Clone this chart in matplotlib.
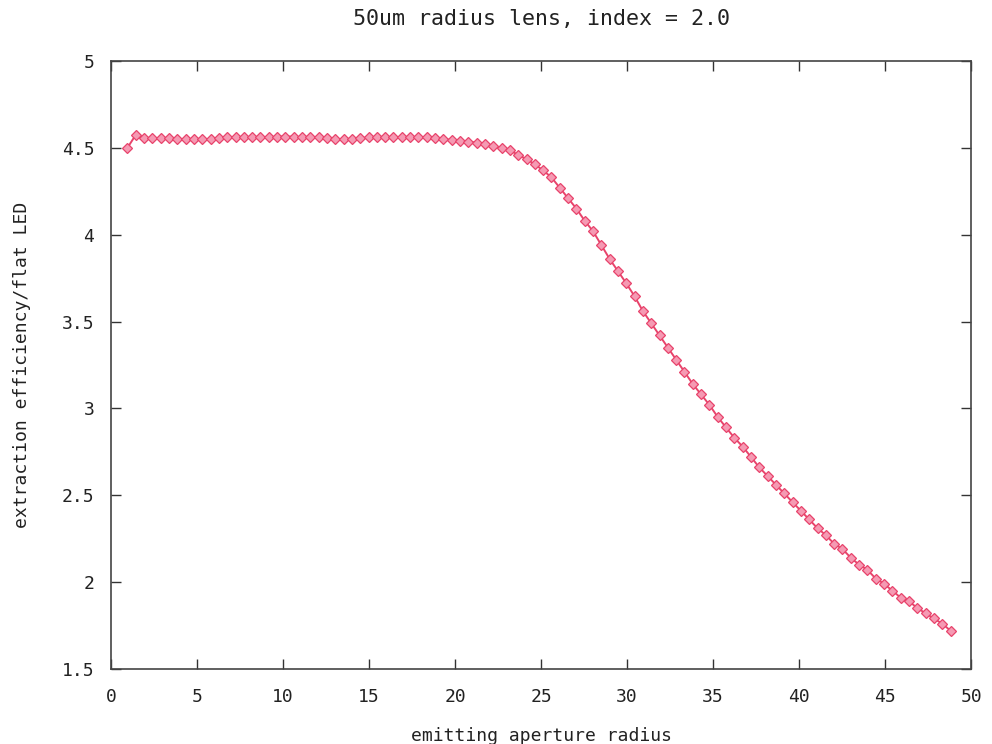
import matplotlib

matplotlib.use("Agg")
import matplotlib.pyplot as plt
import numpy as np

# sample grid (evenly spaced aperture radii)
radius = np.linspace(0.95, 48.8, 100)

efficiency = [
    4.50, 4.575, 4.555, 4.555, 4.555, 4.555, 4.55, 4.55, 4.55, 4.55,
    4.55, 4.555, 4.56, 4.56, 4.56, 4.56, 4.56, 4.56, 4.565, 4.565,
    4.565, 4.56, 4.56, 4.56, 4.555, 4.55, 4.55, 4.55, 4.555, 4.56,
    4.56, 4.56, 4.56, 4.56, 4.56, 4.56, 4.56, 4.555, 4.55, 4.545,
    4.54, 4.535, 4.53, 4.52, 4.51, 4.50, 4.485, 4.46, 4.435, 4.405,
    4.37, 4.33, 4.27, 4.21, 4.15, 4.08, 4.02, 3.94, 3.86, 3.79,
    3.72, 3.645, 3.56, 3.49, 3.42, 3.35, 3.28, 3.21, 3.14, 3.08,
    3.02, 2.95, 2.89, 2.83, 2.78, 2.72, 2.66, 2.61, 2.56, 2.51,
    2.46, 2.41, 2.36, 2.31, 2.27, 2.22, 2.19, 2.14, 2.10, 2.07,
    2.02, 1.99, 1.95, 1.91, 1.89, 1.85, 1.82, 1.79, 1.76, 1.72,
]

xticks = [0, 5, 10, 15, 20, 25, 30, 35, 40, 45, 50]
yticks = [1.5, 2, 2.5, 3, 3.5, 4, 4.5, 5]
ytick_labels = ["1.5", "2", "2.5", "3", "3.5", "4", "4.5", "5"]

plt.rcParams["font.family"] = ["DejaVu Sans Mono"]
plt.rcParams["font.size"] = 13

fig = plt.figure(figsize=(9.92, 7.44), dpi=100)
ax = fig.add_axes([0.112, 0.101, 0.867, 0.817])

ax.plot(radius, efficiency, "-", color="#e8436b", linewidth=1.4,
        marker="D", markersize=5, markerfacecolor="#f59ab3",
        markeredgecolor="#e8436b", markeredgewidth=0.9)

ax.set_xlim(0, 50)
ax.set_ylim(1.5, 5)
ax.set_xticks(xticks)
ax.set_yticks(yticks)
ax.set_yticklabels(ytick_labels)
ax.tick_params(axis="both", direction="in", length=7, width=1, top=True,
               right=True, colors="#333333", labelcolor="#222222")
ax.tick_params(axis="x", pad=14)
ax.tick_params(axis="y", pad=12)
for sp in ax.spines.values():
    sp.set_color("#444444")
    sp.set_linewidth(1.2)

ax.set_xlabel("emitting aperture radius", labelpad=15, color="#222222")
ax.set_ylabel("extraction efficiency/flat LED", labelpad=22, color="#222222")
ax.set_title("50um radius lens, index = 2.0", pad=26, color="#222222")

fig.savefig("out.png", dpi=100)
plt.close(fig)
